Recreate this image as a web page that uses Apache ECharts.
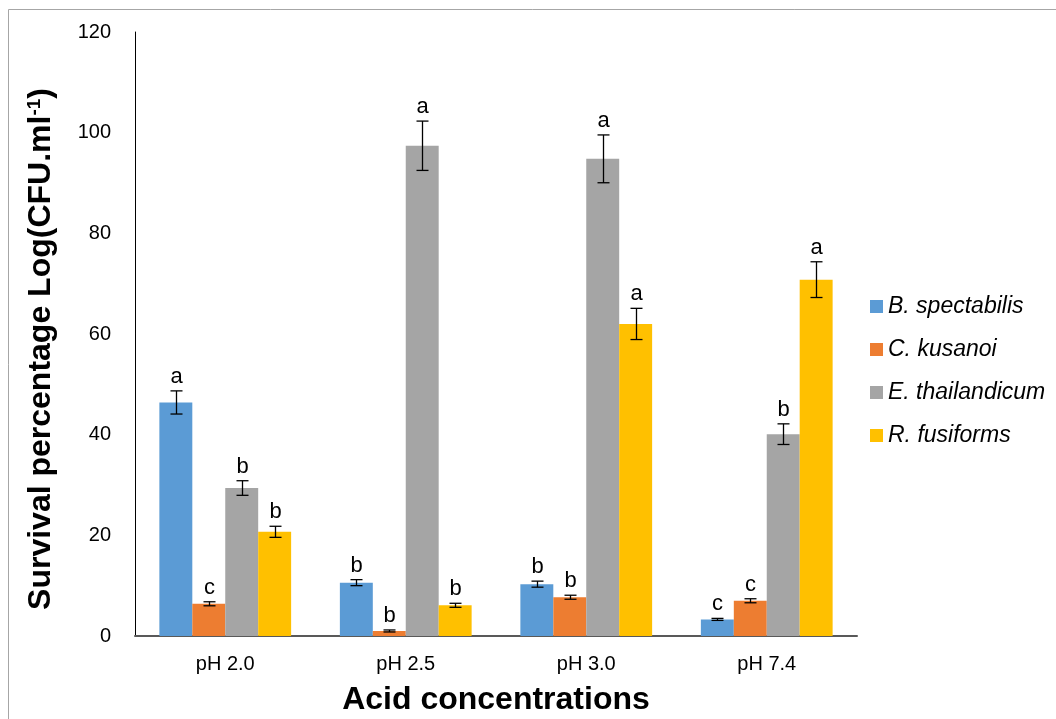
<!DOCTYPE html>
<html>
<head>
<meta charset="utf-8">
<script src="https://cdn.jsdelivr.net/npm/echarts@6/dist/echarts.min.js"></script>
<style>
  html, body { margin: 0; padding: 0; background: #fff; overflow: hidden; }
  #chart { width: 1056px; height: 719px; }
</style>
</head>
<body>
<div id="chart"></div>
<script>
// Acid tolerance: survival per strain at each pH
const categories = ['pH 2.0', 'pH 2.5', 'pH 3.0', 'pH 7.4'];
const seriesNames = ['B. spectabilis', 'C. kusanoi', 'E. thailandicum', 'R. fusiforms'];
const colors = ['#5B9BD5', '#ED7D31', '#A5A5A5', '#FFC000'];

// mean values
const bSpectabilis = [46.4, 10.6, 10.3, 3.3];
const cKusanoi = [6.4, 1.0, 7.7, 7.0];
const eThailandicum = [29.4, 97.4, 94.8, 40.1];
const rFusiforms = [20.7, 6.1, 62.0, 70.8];

// standard errors
const bSpectabilisErr = [2.3, 0.6, 0.6, 0.2];
const cKusanoiErr = [0.4, 0.2, 0.4, 0.4];
const eThailandicumErr = [1.45, 4.9, 4.75, 2.05];
const rFusiformsErr = [1.1, 0.4, 3.1, 3.55];

// significance letters
const bSpectabilisSig = ['a', 'b', 'b', 'c'];
const cKusanoiSig = ['c', 'b', 'b', 'c'];
const eThailandicumSig = ['b', 'a', 'a', 'b'];
const rFusiformsSig = ['b', 'b', 'a', 'a'];

const yTicks = { min: 0, max: 120, interval: 20 };

const means = [bSpectabilis, cKusanoi, eThailandicum, rFusiforms];
const errs = [bSpectabilisErr, cKusanoiErr, eThailandicumErr, rFusiformsErr];
const sigs = [bSpectabilisSig, cKusanoiSig, eThailandicumSig, rFusiformsSig];

const CAT_GAP = 0.27;
const FONT = 'Liberation Sans, Arial, sans-serif';

const barSeries = seriesNames.map((name, i) => ({
  name: name,
  type: 'bar',
  data: means[i],
  barGap: '0%',
  barCategoryGap: (CAT_GAP * 100) + '%',
  itemStyle: { color: colors[i] },
  z: 2
}));

// error bars and significance letters drawn on top of each bar
const errSeries = seriesNames.map((name, i) => ({
  type: 'custom',
  name: name + '-err',
  z: 5,
  silent: true,
  data: means[i].map((v, k) => [k, v, errs[i][k]]),
  encode: { x: 0, y: 1 },
  renderItem: function (params, api) {
    const k = api.value(0);
    const v = api.value(1);
    const e = api.value(2);
    const band = api.size([1, 0])[0];
    const barW = band * (1 - CAT_GAP) / 4;
    const c = api.coord([k, v]);
    const x = Math.round(c[0] + (i - 1.5) * barW) + 0.5;
    const yTop = api.coord([k, v + e])[1];
    const yBot = api.coord([k, v - e])[1];
    const cap = 6;
    const ls = { stroke: '#000', lineWidth: 1.3 };
    return {
      type: 'group',
      children: [
        { type: 'line', shape: { x1: x, y1: yTop, x2: x, y2: yBot }, style: ls },
        { type: 'line', shape: { x1: x - cap, y1: yTop, x2: x + cap, y2: yTop }, style: ls },
        { type: 'line', shape: { x1: x - cap, y1: yBot, x2: x + cap, y2: yBot }, style: ls },
        {
          type: 'text',
          style: {
            text: sigs[i][params.dataIndex],
            x: x, y: yTop - 3,
            align: 'center', verticalAlign: 'bottom',
            font: '22px ' + FONT,
            fill: '#000'
          }
        }
      ]
    };
  }
}));

const chart = echarts.init(document.getElementById('chart'), null, { renderer: 'canvas' });

chart.setOption({
  animation: false,
  backgroundColor: '#fff',
  grid: { left: 135, right: 199, top: 32, bottom: 83, containLabel: false, outerBoundsMode: 'none' },
  legend: {
    data: seriesNames,
    orient: 'vertical',
    left: 865,
    top: 290,
    icon: 'rect',
    itemWidth: 13,
    itemHeight: 13,
    itemGap: 20,
    textStyle: { fontFamily: FONT, fontStyle: 'italic', fontSize: 23, color: '#000', lineHeight: 23 }
  },
  xAxis: {
    type: 'category',
    data: categories,
    axisLine: { show: true, lineStyle: { color: '#595959', width: 2 } },
    axisTick: { show: false },
    axisLabel: { fontFamily: FONT, fontSize: 20, color: '#000', margin: 18 },
    name: 'Acid concentrations',
    nameLocation: 'middle',
    nameGap: 48,
    nameTextStyle: { fontFamily: FONT, fontSize: 32, fontWeight: 'bold', color: '#000' }
  },
  yAxis: {
    type: 'value',
    min: yTicks.min,
    max: yTicks.max,
    interval: yTicks.interval,
    axisLine: { show: true, lineStyle: { color: '#000', width: 1 } },
    axisTick: { show: false },
    splitLine: { show: false },
    axisLabel: { fontFamily: FONT, fontSize: 20, color: '#000', margin: 24 }
  },
  graphic: [
    {
      type: 'rect',
      shape: { x: 8.5, y: 9.5, width: 1200, height: 900 },
      style: { fill: 'none', stroke: '#A6A6A6', lineWidth: 1 },
      silent: true,
      z: -1
    },
    {
      type: 'text',
      x: 41,
      y: 349,
      rotation: Math.PI / 2,
      style: {
        text: '{t|Survival percentage Log(CFU.ml}{s|-1}{t|)}',
        align: 'center',
        verticalAlign: 'middle',
        rich: {
          t: { font: 'bold 32px ' + FONT, fill: '#000' },
          s: { font: 'bold 19px ' + FONT, fill: '#000', verticalAlign: 'top', padding: [0, 0, 12, 0] }
        }
      }
    }
  ],
  series: barSeries.concat(errSeries)
});
</script>
</body>
</html>
